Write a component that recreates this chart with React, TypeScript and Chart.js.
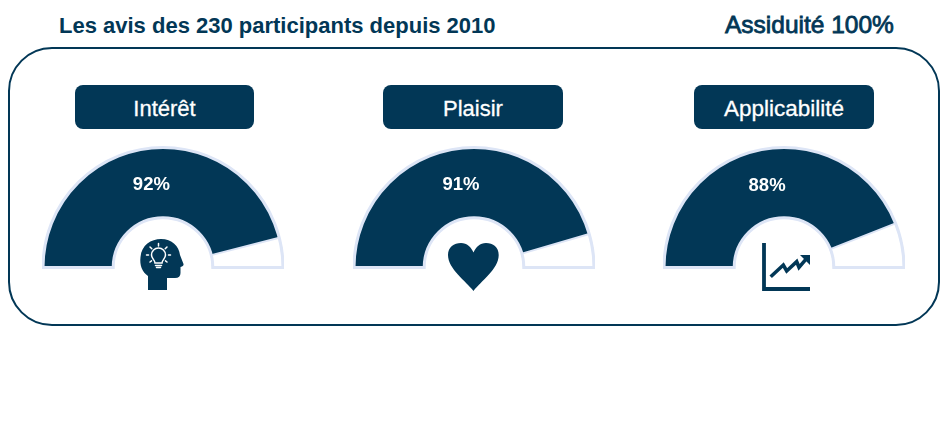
import React, { useEffect, useRef } from "react";
import { Chart, registerables } from "chart.js";

Chart.register(...registerables);

const NAVY = "#023756";
const EDGE = "#dde5f6";
const FONT = '"Liberation Sans", Arial, sans-serif';

const title = "Les avis des 230 participants depuis 2010";
const attendance = "Assiduité 100%";
const categories = ["Intérêt", "Plaisir", "Applicabilité"];
const favourable = [92, 91, 88];
const remainder = [8, 9, 12];

const GAUGE_W = 242;
const GAUGE_H = 123;
const gaugeLeft = [42, 352.5, 663];
const boxLeft = [75, 383, 694];
const boxWidth = [179, 180, 180];
const labelFontSize = [22, 22, 22.5];

const labelPlugin = {
  id: "gaugeLabel",
  afterDatasetsDraw(chart: any) {
    const arc = chart.getDatasetMeta(0).data[0];
    const pos = arc.tooltipPosition();
    const ctx = chart.ctx;
    ctx.save();
    ctx.fillStyle = "#ffffff";
    ctx.font = `bold 18.5px ${FONT}`;
    ctx.textAlign = "center";
    ctx.textBaseline = "middle";
    ctx.fillText(`${chart.data.datasets[0].data[0]}%`, pos.x - 1, pos.y + 1.5);
    ctx.restore();
  },
};

function Gauge({ index }: { index: number }) {
  const ref = useRef<HTMLCanvasElement>(null);
  useEffect(() => {
    const chart = new Chart(ref.current!, {
      type: "doughnut",
      data: {
        labels: [categories[index], "Autres"],
        datasets: [
          {
            data: [favourable[index], remainder[index]],
            backgroundColor: [NAVY, "#ffffff"],
            borderColor: EDGE,
            borderWidth: [0, 2],
            borderAlign: "center",
          } as any,
        ],
      },
      options: {
        animation: false,
        responsive: false,
        rotation: -90,
        circumference: 180,
        cutout: "41.5%",
        layout: { padding: 0 },
        plugins: { legend: { display: false }, tooltip: { enabled: false } },
      },
      plugins: [
        {
          id: "gaugeOutline",
          afterDatasetsDraw(c: any) {
            const a = c.getDatasetMeta(0).data[0];
            const g = c.ctx;
            g.save();
            g.strokeStyle = EDGE;
            g.lineWidth = 3;
            g.beginPath();
            g.arc(a.x, a.y, a.outerRadius, Math.PI, 2 * Math.PI);
            g.lineTo(a.x + a.innerRadius, a.y);
            g.arc(a.x, a.y, a.innerRadius, 0, Math.PI, true);
            g.closePath();
            g.stroke();
            g.restore();
          },
        },
        labelPlugin,
      ] as any,
    });
    return () => chart.destroy();
  }, [index]);
  return (
    <canvas
      ref={ref}
      width={GAUGE_W}
      height={GAUGE_H}
      style={{ position: "absolute", left: gaugeLeft[index], top: 146, width: GAUGE_W, height: GAUGE_H }}
    />
  );
}

const HeadIcon = () => (
  <svg style={{ position: "absolute", left: 130, top: 230 }} width={70} height={70} viewBox="0 0 70 70">
    <path
      d="M18 60 V46 C12 42 9.5 35 10.5 27 C11.5 15 21 9 31 9 C42 9 49 16 50 25 L53.5 34 Q54 36 50.5 37 L50.5 43 Q50.5 48 45 48 L37 48 V60 Z"
      fill={NAVY}
    />
    <g fill="none" stroke="#fff" strokeWidth={1.5} strokeLinecap="round">
      <path d="M25 33 C25 30 21.5 28.5 21.5 25 A7 7 0 0 1 35.5 25 C35.5 28.5 32 30 32 33 Z" />
      <path d="M25.5 35.5 H31.5 M26.5 37.5 H30.5" />
      <path d="M28.5 13.5 V16 M20 17 L21.8 18.8 M37 17 L35.2 18.8 M16.5 25 H18.5 M38.5 25 H40.5 M20 32 L21.5 30.8 M37 32 L35.5 30.8" />
    </g>
  </svg>
);

const HeartIcon = () => (
  <svg style={{ position: "absolute", left: 440, top: 235 }} width={70} height={65} viewBox="0 0 70 65">
    <path
      d="M33.5 56 C26 46 8 34 8 20 C8 12 14 8 21 8 C27 8 31 12 33.5 17.5 C36 12 40 8 46 8 C53 8 58.7 12 58.7 20 C58.7 34 41 46 33.5 56 Z"
      fill={NAVY}
    />
  </svg>
);

const TrendIcon = () => (
  <svg style={{ position: "absolute", left: 755, top: 238 }} width={62} height={60} viewBox="0 0 62 60">
    <path d="M9 5 V51 H55" fill="none" stroke={NAVY} strokeWidth={3.8} />
    <path d="M15.7 38.7 L28.3 27 L31.7 33 L41.7 23.7 L44 29.3 L51.7 20.3" fill="none" stroke={NAVY} strokeWidth={3.6} />
    <path d="M45 17 H55 V27 Z" fill={NAVY} />
  </svg>
);

const icons = [HeadIcon, HeartIcon, TrendIcon];

export default function App() {
  return (
    <div style={{ position: "absolute", left: 0, top: 0, width: 946, height: 432, overflow: "hidden", background: "#fff", fontFamily: FONT, color: NAVY }}>
      <div style={{ position: "absolute", left: 59, top: 13, fontSize: 22, lineHeight: "26px", fontWeight: 700, whiteSpace: "nowrap" }}>{title}</div>
      <div style={{ position: "absolute", left: 725, top: 10, fontSize: 24.5, lineHeight: "30px", fontWeight: 400, whiteSpace: "nowrap", WebkitTextStroke: `0.8px ${NAVY}` }}>{attendance}</div>
      <div style={{ position: "absolute", left: 8, top: 47, width: 932, height: 279, boxSizing: "border-box", border: `2px solid ${NAVY}`, borderRadius: 44 }} />
      {categories.map((name, i) => {
        const Icon = icons[i];
        return (
          <React.Fragment key={name}>
            <div style={{ position: "absolute", left: boxLeft[i], top: 85, width: boxWidth[i], height: 44, borderRadius: 8, background: NAVY, color: "#fff", fontSize: labelFontSize[i], lineHeight: "47px", textAlign: "center", WebkitTextStroke: "0.3px #fff" }}>{name}</div>
            <Gauge index={i} />
            <Icon />
          </React.Fragment>
        );
      })}
    </div>
  );
}
